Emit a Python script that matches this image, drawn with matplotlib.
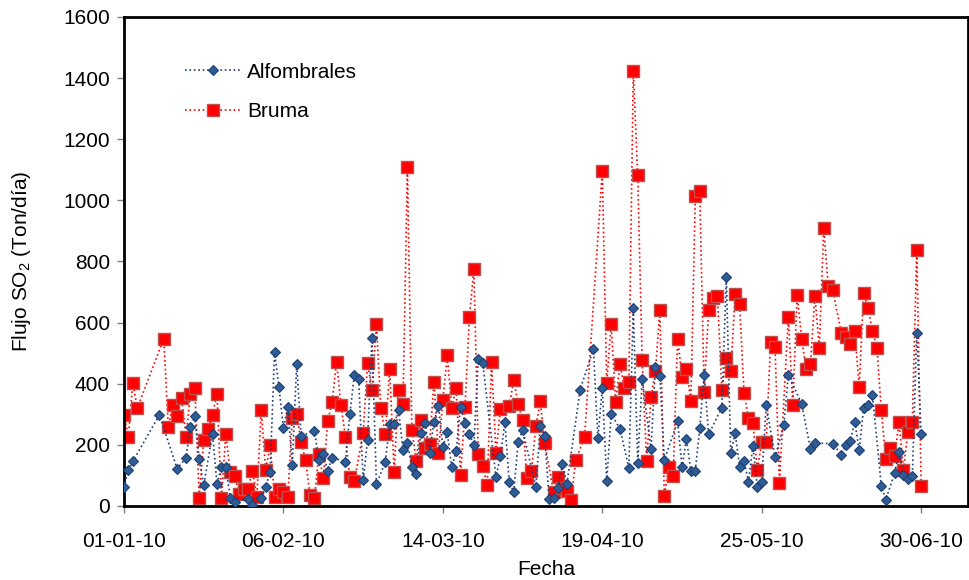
import numpy as np
import matplotlib.pyplot as plt
import matplotlib.dates as mdates

plt.rcParams['font.family'] = ['Liberation Sans', 'DejaVu Sans']
plt.rcParams['mathtext.default'] = 'regular'

start = np.datetime64('2010-01-01')

# Alfombrales: day offset from 01-01-10, SO2 flux (Ton/dia)
alf_days = [0, 1, 2, 8, 12, 14, 15, 16, 17, 18, 20, 21, 22, 23, 24, 25, 28, 29,
            31, 32, 33, 34, 35, 36, 37, 38, 39, 40, 43, 44, 45, 46, 47, 50, 51,
            52, 53, 54, 55, 56, 57, 59, 60, 61, 62, 63, 64, 65, 66, 67, 68, 69,
            70, 71, 72, 73, 74, 75, 76, 77, 78, 79, 80, 81, 84, 85, 86, 87, 88,
            89, 90, 93, 94, 95, 96, 97, 98, 99, 100, 103, 106, 107, 108, 109,
            110, 112, 114, 115, 116, 117, 119, 120, 121, 122, 125, 126, 127,
            128, 129, 130, 131, 132, 135, 136, 137, 138, 139, 140, 141, 142,
            143, 144, 145, 147, 149, 150, 153, 155, 156, 160, 162, 163, 164,
            165, 166, 167, 168, 169, 171, 172, 174, 175, 176, 177, 178, 179, 180]
alf_vals = [61, 119, 146, 298, 122, 157, 260, 293, 153, 68, 236, 72, 128, 129, 27, 14, 24, 3,
            26, 62, 111, 504, 389, 254, 323, 135, 465, 228, 247, 151, 171, 115, 158, 145, 300,
            428, 414, 84, 216, 551, 71, 144, 268, 267, 314, 183, 207, 129, 105, 240, 270, 175,
            275, 328, 193, 241, 126, 180, 325, 272, 236, 200, 480, 469, 94, 164, 274, 77, 46,
            209, 249, 63, 263, 228, 22, 25, 58, 137, 72, 381, 514, 222, 387, 82,
            302, 252, 124, 647, 142, 414, 186, 456, 425, 150, 277, 127, 220,
            116, 115, 256, 430, 234, 322, 750, 173, 238, 129, 146, 80, 197,
            61, 80, 332, 159, 266, 430, 335, 187, 206, 204, 168, 200, 213,
            276, 182, 319, 332, 362, 66, 21, 107, 176, 102, 88, 98, 566, 236]

# Bruma
bru_days = [0, 1, 2, 3, 9, 10, 11, 12, 13, 14, 15, 16, 17, 18, 19, 20, 21, 22, 23, 24,
            25, 26, 27, 28, 29, 30, 31, 32, 33, 34, 35, 36, 37, 38, 39, 40, 41, 42, 43,
            44, 45, 46, 47, 48, 49, 50, 51, 52, 54, 55, 56, 57, 58, 59, 60, 61, 62, 63,
            64, 65, 66, 67, 68, 69, 70, 71, 72, 73, 74, 75, 76, 77, 78, 79, 80, 81, 82,
            83, 84, 85, 87, 88, 89, 90, 91, 92, 93, 94, 95, 97, 98, 99, 100, 101, 102,
            104, 108, 109, 110, 111, 112, 113, 114, 115, 116, 117, 118, 119, 120, 121,
            122, 123, 124, 125, 126, 127, 128, 129, 130, 131, 132, 133, 134, 135, 136,
            137, 138, 139, 140, 141, 142, 143, 144, 145, 146, 147, 148, 150, 151, 152,
            153, 154, 155, 156, 157, 158, 159, 160, 162, 163, 164, 165, 166, 167, 168,
            169, 170, 171, 172, 173, 174, 175, 176, 177, 178, 179, 180]
bru_vals = [299, 227, 404, 320, 548, 257, 331, 295, 354, 227, 366, 387, 25, 216, 251, 299, 367, 25, 236, 110,
            97, 39, 55, 55, 116, 30, 313, 117, 199, 31, 57, 45, 29, 288, 301, 210, 150, 36, 27,
            170, 91, 277, 341, 470, 330, 227, 94, 81, 239, 467, 381, 595, 319, 236, 448, 110, 381, 335,
            1110, 250, 148, 283, 190, 203, 407, 172, 346, 493, 320, 387, 101, 324, 618, 775, 169, 132, 68,
            470, 172, 316, 327, 412, 333, 283, 90, 116, 261, 343, 205, 45, 96, 58, 50, 20, 150,
            226, 1097, 401, 597, 340, 464, 387, 407, 1424, 1082, 477, 148, 358, 441, 641,
            33, 129, 99, 548, 423, 447, 343, 1014, 1031, 374, 641, 679, 687, 378, 485,
            441, 693, 661, 370, 289, 272, 118, 209, 209, 537, 520, 74, 620, 330, 690,
            548, 449, 463, 688, 516, 910, 720, 707, 565, 554, 529, 574, 389, 697, 648,
            571, 518, 313, 154, 190, 162, 275, 119, 241, 275, 839, 65]

tick_days = [0, 36, 72, 108, 144, 180]

alf_dates = start + np.array(alf_days).astype('timedelta64[D]')
bru_dates = start + np.array(bru_days).astype('timedelta64[D]')
tick_dates = start + np.array(tick_days).astype('timedelta64[D]')

fig = plt.figure(figsize=(9.7, 5.8), dpi=100)
ax = fig.add_axes([0.1278, 0.1276, 0.8702, 0.8431])

ax.plot(alf_dates, alf_vals, linestyle=':', linewidth=1.2, color='#1F3F73',
        marker='D', markersize=5.5, markerfacecolor='#2E5C94', markeredgecolor='#1F3F73',
        markeredgewidth=0.8, label='Alfombrales', zorder=3)
ax.plot(bru_dates, bru_vals, linestyle=':', linewidth=1.2, color='#FF0000',
        marker='s', markersize=8, markerfacecolor='#FF0000', markeredgecolor='#C0504D',
        markeredgewidth=1.0, label='Bruma', zorder=2)

ax.set_xlim(start, start + np.timedelta64(190, 'D') + np.timedelta64(14, 'h'))
ax.set_ylim(0, 1600)
ax.set_yticks(np.arange(0, 1601, 200))
ax.set_xticks(tick_dates)
ax.xaxis.set_major_formatter(mdates.DateFormatter('%d-%m-%y'))

for s in ax.spines.values():
    s.set_linewidth(2)
    s.set_color('black')
ax.tick_params(axis='both', direction='out', length=5, width=1, color='#808080',
               labelsize=15)
ax.tick_params(axis='y', pad=5)
ax.tick_params(axis='x', pad=14)

ax.set_xlabel('Fecha', fontsize=15, labelpad=6)
ax.set_ylabel('Flujo SO$_2$ (Ton/día)', fontsize=15)
ax.yaxis.set_label_coords(-0.108, 0.5)

ax.legend(loc='upper left', bbox_to_anchor=(0.05, 0.945), frameon=False,
          fontsize=15, labelspacing=1.0, handlelength=2.65, handletextpad=0.35)

fig.savefig('out.png', dpi=100)
